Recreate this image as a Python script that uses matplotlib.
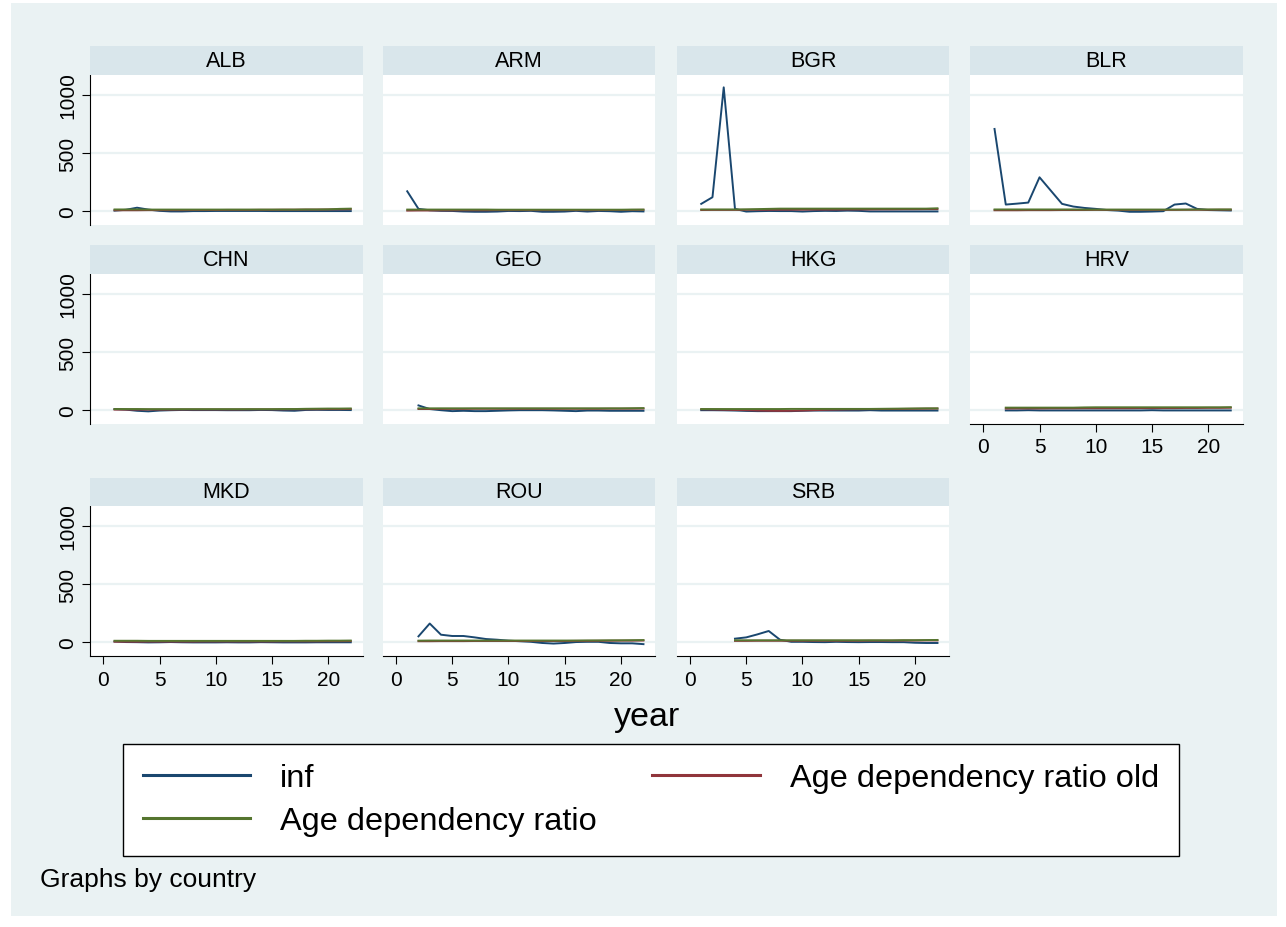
import matplotlib.pyplot as plt
from matplotlib.patches import Rectangle
from matplotlib.lines import Line2D

plt.rcParams['font.family'] = ['Liberation Sans', 'DejaVu Sans']

# panels, in Stata's by() order
countries = ["ALB", "ARM", "BGR", "BLR", "CHN", "GEO", "HKG", "HRV", "MKD", "ROU", "SRB"]
first_year = {"ALB": 1, "ARM": 1, "BGR": 1, "BLR": 1, "CHN": 1, "GEO": 2,
              "HKG": 1, "HRV": 2, "MKD": 1, "ROU": 2, "SRB": 4}

# inflation
inf = {
    "ALB": [5, 12, 30, 14, 3, -2, -2, 1, 1, 2, 2, 2, 2, 2, 1, 1, 1, 1, 1, 1, 1, 1],
    "ARM": [171, 20, 8, 3, 2, -3, -5, -5, -3, 2, 1, 3, -5, -5, -3, 3, -3, 2, 0, -5, 0, -2],
    "BGR": [63, 120, 1063, 20, -3, 0, 2, 1, 1, -3, 1, 3, 2, 5, 3, -2, -2, -2, -2, -2, -2, -2],
    "BLR": [706, 57, 65, 74, 291, 177, 63, 40, 28, 20, 10, 5, -5, -5, -3, 0, 57, 66, 20, 10, 8, 6],
    "CHN": [10, 5, -5, -10, -3, 0, 2, 1, 1, 1, 0, 0, 0, 2, 1, -3, -5, 2, 3, 2, 2, 1],
    "GEO": [41, 10, 0, -8, -5, -8, -8, -5, -2, 0, 0, 0, -2, -5, -8, -3, -3, -5, -5, -5, -5],
    "HKG": [0, 0, -1, -3, -6, -8, -8, -8, -8, -5, -3, -3, -3, -3, -3, 0, -3, -3, -3, -3, -3, -3],
    "HRV": [-2, -2, 0, -2, -2, -2, -2, -2, -2, -2, -2, -2, -2, 0, -2, -2, -2, -2, -2, -2, -2],
    "MKD": [8, 3, 2, 0, 1, 3, 1, 0, 0, 0, 1, 0, 0, 2, 1, 0, 0, 0, 1, 1, 1, 1],
    "ROU": [52, 162, 66, 55, 55, 43, 29, 23, 15, 10, 5, -5, -10, -5, 3, 5, 5, -5, -8, -8, -15],
    "SRB": [32, 43, 69, 98, 23, 5, 5, 3, 2, 5, 3, 2, 3, 3, 2, 2, -3, -5, -5],
}

# age dependency ratio old
age_old = {
    "ALB": [8, 8, 8, 9, 9, 9, 9, 10, 10, 10, 11, 11, 11, 12, 12, 13, 13, 14, 14, 15, 16, 17],
    "ARM": [5, 6, 6, 7, 7, 8, 8, 8, 9, 9, 9, 9, 9, 9, 9, 9, 9, 9, 10, 10, 11, 12],
    "BGR": [10, 11, 11, 11, 12, 12, 12, 13, 13, 13, 14, 14, 14, 15, 15, 15, 16, 16, 17, 17, 18, 18],
    "BLR": [8, 8, 8, 9, 9, 9, 10, 10, 10, 11, 11, 11, 11, 11, 11, 11, 11, 12, 12, 12, 13, 13],
    "CHN": [5, 5, 5, 5, 5, 5, 6, 6, 6, 6, 6, 6, 7, 7, 7, 7, 8, 8, 8, 9, 9, 10],
    "GEO": [10, 10, 11, 11, 11, 12, 12, 12, 12, 12, 12, 12, 12, 12, 12, 12, 12, 13, 13, 13, 14],
    "HKG": [8, 6, 4, 2, 0, -3, -5, -6, -5, -3, 0, 3, 5, 7, 8, 9, 10, 10, 11, 12, 13, 14],
    "HRV": [14, 15, 15, 15, 16, 16, 16, 17, 17, 17, 17, 17, 18, 18, 18, 18, 19, 19, 20, 20, 21],
    "MKD": [6, 6, 6, 7, 7, 7, 7, 7, 8, 8, 8, 8, 8, 8, 8, 9, 9, 9, 9, 10, 10, 11],
    "ROU": [10, 10, 11, 11, 11, 12, 12, 12, 12, 12, 12, 12, 12, 12, 13, 13, 14, 14, 15, 15, 16],
    "SRB": [13, 13, 14, 14, 14, 14, 14, 14, 14, 14, 14, 14, 15, 15, 15, 16, 16, 17, 17],
}

# age dependency ratio
age_total = {
    "ALB": [15, 15, 15, 14, 14, 14, 14, 14, 14, 14, 14, 14, 14, 14, 14, 14, 14, 15, 15, 16, 20, 22],
    "ARM": [14, 14, 14, 14, 14, 14, 14, 14, 13, 13, 13, 13, 13, 13, 13, 13, 13, 13, 13, 13, 14, 14],
    "BGR": [15, 15, 15, 15, 16, 18, 20, 22, 22, 22, 22, 22, 22, 22, 22, 22, 22, 22, 22, 22, 22, 25],
    "BLR": [15, 15, 15, 15, 15, 15, 15, 15, 14, 14, 14, 14, 14, 14, 14, 14, 14, 14, 15, 15, 15, 15],
    "CHN": [10, 10, 10, 9, 9, 9, 9, 9, 9, 9, 9, 9, 9, 9, 9, 10, 10, 12, 13, 14, 14, 15],
    "GEO": [16, 16, 16, 16, 16, 16, 16, 16, 16, 16, 16, 16, 16, 16, 16, 16, 16, 16, 16, 17, 18],
    "HKG": [10, 10, 10, 10, 10, 10, 10, 10, 11, 11, 11, 11, 11, 11, 11, 11, 12, 13, 14, 15, 16, 16],
    "HRV": [22, 22, 22, 22, 22, 22, 22, 24, 25, 25, 25, 25, 25, 25, 25, 25, 25, 25, 25, 25, 26],
    "MKD": [14, 14, 14, 13, 13, 13, 13, 13, 13, 13, 13, 13, 13, 13, 13, 13, 13, 14, 14, 15, 15, 16],
    "ROU": [15, 16, 16, 16, 16, 16, 16, 16, 16, 16, 16, 16, 16, 16, 16, 17, 17, 18, 18, 19, 20],
    "SRB": [18, 18, 18, 18, 18, 18, 18, 18, 18, 18, 18, 18, 18, 18, 18, 19, 19, 20, 21],
}

xticks = [0, 5, 10, 15, 20]
yticks = [0, 500, 1000]

# stata s2color
BG = "#eaf2f3"
STRIP = "#d9e6eb"
C_INF = "#1a476f"
C_OLD = "#90353b"
C_TOT = "#55752f"

W, H = 1286, 928
fig = plt.figure(figsize=(W / 100, H / 100), dpi=100, facecolor="white")
fig.patches.append(Rectangle((11 / W, 1 - 917 / H), 1266 / W, 913 / H,
                             transform=fig.transFigure, facecolor=BG,
                             edgecolor="none", zorder=-10))

col_left = [90, 382.7, 676.7, 970]
row_top = [76, 275, 507.2]
pw, ph, sh = 272.7, 149.6, 28.7


def years(c, vals):
    return list(range(first_year[c], first_year[c] + len(vals)))


for i, c in enumerate(countries):
    r, k = divmod(i, 4)
    x0 = col_left[k]
    y0 = row_top[r]
    ax = fig.add_axes([x0 / W, 1 - (y0 + ph) / H, pw / W, ph / H])
    ax.set_facecolor("white")
    ax.plot(years(c, inf[c]), inf[c], color=C_INF, lw=1.4)
    ax.plot(years(c, age_old[c]), age_old[c], color=C_OLD, lw=1.4)
    ax.plot(years(c, age_total[c]), age_total[c], color=C_TOT, lw=1.4)
    ax.set_xlim(-1.18, 23.06)
    ax.set_ylim(-115, 1169)
    ax.set_xticks(xticks)
    ax.set_yticks(yticks)
    ax.set_yticklabels([str(v) for v in yticks], rotation=90, va="center")
    ax.grid(axis="y", color=BG, lw=1.6)
    ax.set_axisbelow(True)
    for s in ax.spines.values():
        s.set_visible(False)
    ax.tick_params(axis="both", length=6, width=0.8, labelsize=15, color="black")
    ax.tick_params(axis="y", pad=3)
    ax.tick_params(axis="x", pad=4)
    if k == 0:
        ax.spines["left"].set_visible(True)
        ax.spines["left"].set_linewidth(0.8)
    else:
        ax.tick_params(axis="y", left=False, labelleft=False)
    if i + 4 >= len(countries):
        ax.spines["bottom"].set_visible(True)
        ax.spines["bottom"].set_linewidth(0.8)
    else:
        ax.tick_params(axis="x", bottom=False, labelbottom=False)

    # strip title
    sax = fig.add_axes([x0 / W, 1 - y0 / H, pw / W, sh / H])
    sax.set_facecolor(STRIP)
    sax.set_xticks([])
    sax.set_yticks([])
    for s in sax.spines.values():
        s.set_visible(False)
    sax.text(0.5, 0.5, c, ha="center", va="center", fontsize=15.5, transform=sax.transAxes)

fig.text(647 / W, 1 - 718 / H, "year", ha="center", va="center", fontsize=24.5)
fig.text(40 / W, 1 - 880 / H, "Graphs by country", ha="left", va="center", fontsize=19)

handles = [Line2D([], [], color=C_INF, lw=2.2),
           Line2D([], [], color=C_TOT, lw=2.2),
           Line2D([], [], color=C_OLD, lw=2.2)]
labels = ["inf", "Age dependency ratio", "Age dependency ratio old"]
leg = fig.legend(handles, labels, ncol=2, loc="upper left",
                 bbox_to_anchor=(123 / W, 1 - 745 / H), fontsize=23.4,
                 frameon=True, fancybox=False, edgecolor="black", framealpha=1,
                 handlelength=3.32, handletextpad=0.92, columnspacing=1.7,
                 labelspacing=0.4, borderpad=0.6, borderaxespad=0)
leg.get_frame().set_linewidth(1.0)

fig.savefig("out.png", dpi=100, facecolor=fig.get_facecolor())
